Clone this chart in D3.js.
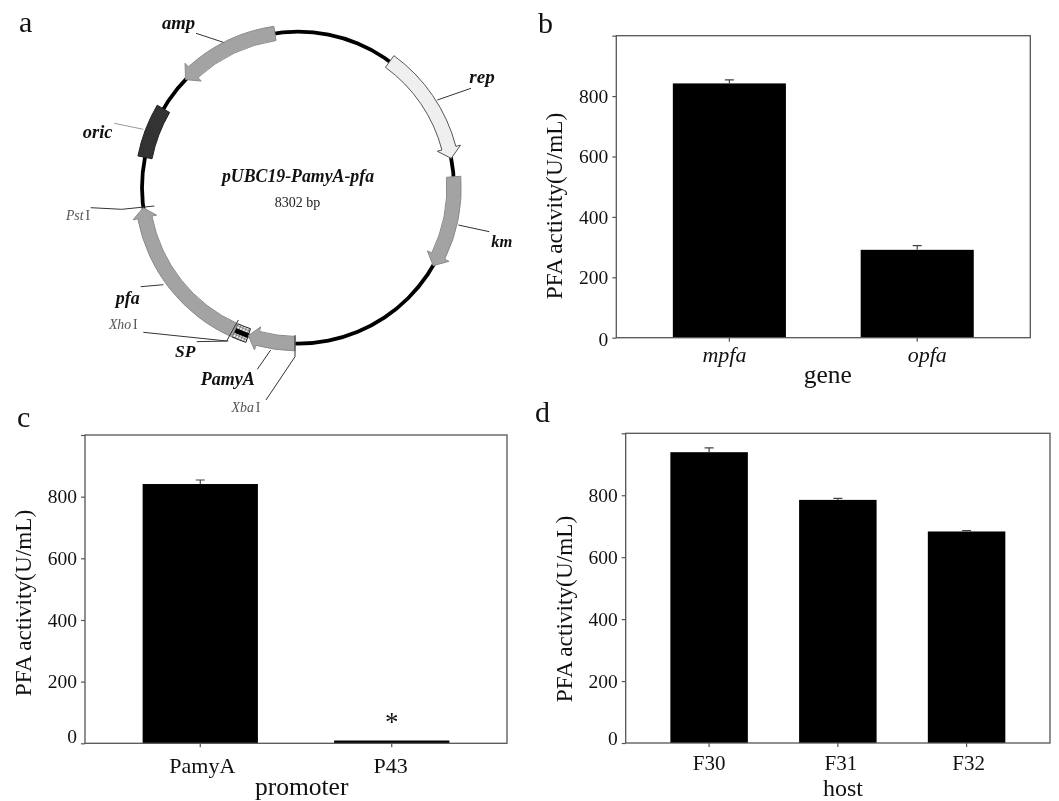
<!DOCTYPE html>
<html><head><meta charset="utf-8">
<script src="https://cdn.jsdelivr.net/npm/d3@7"></script>
<style>html,body{margin:0;padding:0;background:#fff}svg{display:block;filter:blur(0.35px)}</style>
</head><body><svg id="c" width="1059" height="801"></svg>
<script>
// ---------- data ----------
const yTicks = [0, 200, 400, 600, 800, 1000];
const geneCategories = ["mpfa", "opfa"];
const geneValues = [842, 291];
const geneErrorTops = [854, 305];
const promoterCategories = ["PamyA", "P43"];
const promoterValues = [841, 9];
const promoterErrorTops = [854, 9];
const hostCategories = ["F30", "F31", "F32"];
const hostValues = [939, 785, 683];
const hostErrorTops = [953, 790, 686];
const plasmidName = "pUBC19-PamyA-pfa";
const plasmidSize = 8302;
const arrowNames = ["amp", "rep", "km", "PamyA", "pfa"];
const arrowTails = [8106, 830, 1983, 4176, 4702];
const arrowHeadBases = [7328, 1737, 2675, 4497, 5973];
const arrowTips = [7238, 1826, 2767, 4579, 6056];
const oricSpan = [6485, 6927];
const spSpan = [4580, 4702];

// ---------- layout ----------
const svg = d3.select("#c");
const SERIF = "'Liberation Serif','Times New Roman',serif";
const AXIS = "#555";

function panel(o) {
  const y = d3.scaleLinear().domain([0, 1000]).range([o.bottom, o.top]);
  const x = d3.scaleBand().domain(o.cats).range([o.left, o.right])
    .paddingInner(0.398).paddingOuter(o.outer);
  const g = svg.append("g");
  g.selectAll("rect.bar").data(o.cats).join("rect").attr("class", "bar")
    .attr("x", d => x(d)).attr("width", x.bandwidth())
    .attr("y", (d, i) => y(o.vals[i])).attr("height", (d, i) => y(0) - y(o.vals[i]))
    .attr("fill", "#000");
  const cx = d => x(d) + x.bandwidth() / 2;
  g.selectAll("path.err").data(o.cats).join("path").attr("class", "err")
    .attr("d", (d, i) => {
      const p = d3.path();
      if (o.errs[i] > o.vals[i]) {
        p.moveTo(cx(d), y(o.vals[i])); p.lineTo(cx(d), y(o.errs[i]));
        p.moveTo(cx(d) - 4.5, y(o.errs[i])); p.lineTo(cx(d) + 4.5, y(o.errs[i]));
      }
      return p.toString();
    })
    .attr("stroke", "#444").attr("stroke-width", 1.2).attr("fill", "none");
  g.append("rect").attr("x", o.left).attr("y", o.top).attr("width", o.right - o.left)
    .attr("height", o.bottom - o.top).attr("fill", "none").attr("stroke", AXIS).attr("stroke-width", 1.3);
  const ay = g.append("g").attr("transform", `translate(${o.left},0)`)
    .call(d3.axisLeft(y).tickValues(yTicks).tickSize(4).tickPadding(4)
      .tickFormat(d => d === 1000 ? "" : d));
  ay.select(".domain").remove();
  ay.selectAll("line").attr("stroke", AXIS).attr("stroke-width", 1.2);
  ay.selectAll("text").attr("font-family", SERIF).attr("font-size", 19.5).attr("fill", "#111")
    .attr("dy", d => d === 0 ? o.zeroDy : "0.32em");
  const ax = g.append("g").attr("transform", `translate(0,${o.bottom})`)
    .call(d3.axisBottom(x).tickSize(4).tickPadding(0));
  ax.select(".domain").remove();
  ax.selectAll("line").attr("stroke", AXIS).attr("stroke-width", 1.2);
  ax.selectAll("text").attr("font-family", SERIF).attr("font-size", o.labelSize).attr("fill", "#111")
    .attr("font-style", o.italic ? "italic" : "normal")
    .attr("text-anchor", "middle")
    .attr("dx", (d, i) => o.labelDx[i])
    .attr("y", 0).attr("dy", o.labelBase - o.bottom);
  g.append("text").attr("transform", `translate(${o.yTitleX},${o.yTitleY}) rotate(-90)`)
    .attr("text-anchor", "middle").attr("font-family", SERIF).attr("font-size", 23.3).attr("fill", "#111")
    .text("PFA activity(U/mL)");
  g.append("text").attr("x", o.xTitleX).attr("y", o.xTitleY).attr("text-anchor", "middle")
    .attr("font-family", SERIF).attr("font-size", o.xTitleSize).attr("fill", "#111").text(o.xTitle);
  return { x, y, g };
}

panel({ cats: geneCategories, vals: geneValues, errs: geneErrorTops, left: 616.3, right: 1030.3, top: 35.7, bottom: 337.7,
  outer: 0.301, italic: true, labelDx: [-5, 10], labelBase: 362.5, labelSize: 22, zeroDy: "0.42em",
  yTitleX: 562, yTitleY: 206, xTitle: "gene", xTitleX: 827.7, xTitleY: 383, xTitleSize: 25.5 });
const pc = panel({ cats: promoterCategories, vals: promoterValues, errs: promoterErrorTops, left: 85, right: 507, top: 435, bottom: 743.3,
  outer: 0.301, italic: false, labelDx: [2, -1], labelBase: 773.5, labelSize: 22, zeroDy: "-0.05em",
  yTitleX: 31, yTitleY: 603, xTitle: "promoter", xTitleX: 301.7, xTitleY: 795, xTitleSize: 25.5 });
panel({ cats: hostCategories, vals: hostValues, errs: hostErrorTops, left: 625.7, right: 1050, top: 433.3, bottom: 743,
  outer: 0.347, italic: false, labelDx: [0, 3, 2], labelBase: 769.5, labelSize: 21, zeroDy: "0.1em",
  yTitleX: 572, yTitleY: 609, xTitle: "host", xTitleX: 843, xTitleY: 795.5, xTitleSize: 24 });
pc.g.append("text").attr("x", pc.x("P43") + pc.x.bandwidth() / 2).attr("y", 731).attr("text-anchor", "middle")
  .attr("font-family", SERIF).attr("font-size", 27).attr("fill", "#111").text("*");

const letters = [["a", 19, 32], ["b", 538, 33], ["c", 17, 427], ["d", 535, 422]];
svg.selectAll("text.letter").data(letters).join("text").attr("class", "letter")
  .attr("x", d => d[1]).attr("y", d => d[2]).attr("font-family", SERIF).attr("font-size", 30).attr("fill", "#111")
  .text(d => d[0]);

// ---------- plasmid map ----------
const CX = 298, CY = 187.7, R = 156, HALF = 7.2, BARB = 12;
const ang = d3.scaleLinear().domain([0, plasmidSize]).range([0, 2 * Math.PI]);
const pm = svg.append("g");
const defs = svg.append("defs");
const hatch = defs.append("pattern").attr("id", "hatch").attr("width", 3).attr("height", 3)
  .attr("patternUnits", "userSpaceOnUse").attr("patternTransform", "rotate(25)");
hatch.append("rect").attr("width", 3).attr("height", 3).attr("fill", "#eee");
hatch.append("path").attr("d", "M0 0H3M0 0V3").attr("stroke", "#222").attr("stroke-width", 0.9);
const ring = pm.append("g").attr("transform", `translate(${CX},${CY})`);
ring.append("path")
  .attr("d", d3.arc()({ innerRadius: R - 1.9, outerRadius: R + 1.9, startAngle: 0, endAngle: 2 * Math.PI }))
  .attr("fill", "#000");
const arcBand = d3.arc().innerRadius(R - HALF).outerRadius(R + HALF);
ring.append("path").attr("d", arcBand({ startAngle: ang(oricSpan[0]), endAngle: ang(oricSpan[1]) }))
  .attr("fill", "#333").attr("stroke", "#222");
ring.append("path").attr("d", arcBand({ startAngle: ang(spSpan[0]), endAngle: ang(spSpan[1]) }))
  .attr("fill", "url(#hatch)").attr("stroke", "#222").attr("stroke-width", 1);
ring.append("path").attr("d", d3.arc().innerRadius(R - 2.5).outerRadius(R + 2.5)({ startAngle: ang(spSpan[0]) , endAngle: ang(spSpan[1]) }))
  .attr("fill", "#000");

function arrowPath(i) {
  const tail = arrowTails[i], base = arrowHeadBases[i], tip = arrowTips[i];
  const polar = (r, bp) => [r * Math.sin(ang(bp)), -r * Math.cos(ang(bp))];
  const toCanvas = a => a - Math.PI / 2;
  const ccw = tip < tail;
  const p = d3.path();
  p.moveTo(...polar(R + HALF, tail));
  p.arc(0, 0, R + HALF, toCanvas(ang(tail)), toCanvas(ang(base)), ccw);
  p.lineTo(...polar(R + BARB, base));
  p.lineTo(...polar(R, tip));
  p.lineTo(...polar(R - BARB, base));
  p.lineTo(...polar(R - HALF, base));
  p.arc(0, 0, R - HALF, toCanvas(ang(base)), toCanvas(ang(tail)), !ccw);
  p.closePath();
  return p.toString();
}
ring.selectAll("path.arrow").data(arrowNames).join("path").attr("class", "arrow")
  .attr("d", (d, i) => arrowPath(i))
  .attr("fill", d => d === "rep" ? "#efefef" : "#a3a3a3")
  .attr("stroke", d => d === "rep" ? "#555" : "#8a8a8a").attr("stroke-width", 1);

const leaders = [
  [[196, 33.3], [223.3, 42.3]], [[471, 88.3], [437.3, 100]], [[458.3, 225], [489.3, 231.7]],
  [[140.7, 286.7], [163.3, 284.7]], [[90.7, 207.7], [121.7, 209.3], [154.3, 206]],
  [[143.3, 332.3], [226.7, 341], [238.3, 320]], [[196.7, 341.7], [228.3, 341]],
  [[257.3, 369.3], [270.7, 350]], [[266, 400], [295, 356.7], [295, 335]]
];
const lineGen = d3.line();
pm.selectAll("path.leader").data(leaders).join("path").attr("class", "leader")
  .attr("d", lineGen).attr("fill", "none").attr("stroke", "#333").attr("stroke-width", 1);
pm.append("path").attr("d", lineGen([[114.3, 123.3], [143.3, 129.3]])).attr("fill", "none").attr("stroke", "#999").attr("stroke-width", 1);

const bold = [["amp", 178.6, 29.3, 18.7], ["rep", 482, 83, 19], ["oric", 97.7, 138.3, 18.5], ["km", 501.7, 246.7, 16.5],
  ["pfa", 127.8, 304, 18], ["SP", 185.3, 357.3, 17.5], ["PamyA", 227.8, 385, 18]];
pm.selectAll("text.gene").data(bold).join("text").attr("class", "gene")
  .attr("x", d => d[1]).attr("y", d => d[2]).attr("text-anchor", "middle")
  .attr("font-family", SERIF).attr("font-weight", "bold").attr("font-style", "italic")
  .attr("font-size", d => d[3]).attr("fill", "#111").text(d => d[0]);
pm.append("text").attr("x", 298).attr("y", 182).attr("text-anchor", "middle")
  .attr("font-family", SERIF).attr("font-weight", "bold").attr("font-style", "italic")
  .attr("font-size", 17.8).attr("fill", "#111").text(plasmidName);
pm.append("text").attr("x", 297.5).attr("y", 207).attr("text-anchor", "middle")
  .attr("font-family", SERIF).attr("font-size", 14).attr("fill", "#222").text(plasmidSize + " bp");
const sites = [["Pst", 78, 220], ["Xho", 123.3, 329.3], ["Xba", 246, 412.3]];
const st = pm.selectAll("text.site").data(sites).join("text").attr("class", "site")
  .attr("x", d => d[1]).attr("y", d => d[2]).attr("text-anchor", "middle")
  .attr("font-family", SERIF).attr("font-size", 13.8).attr("fill", "#555");
st.append("tspan").attr("font-style", "italic").text(d => d[0]);
st.append("tspan").attr("dx", 2).text("I");
</script></body></html>
